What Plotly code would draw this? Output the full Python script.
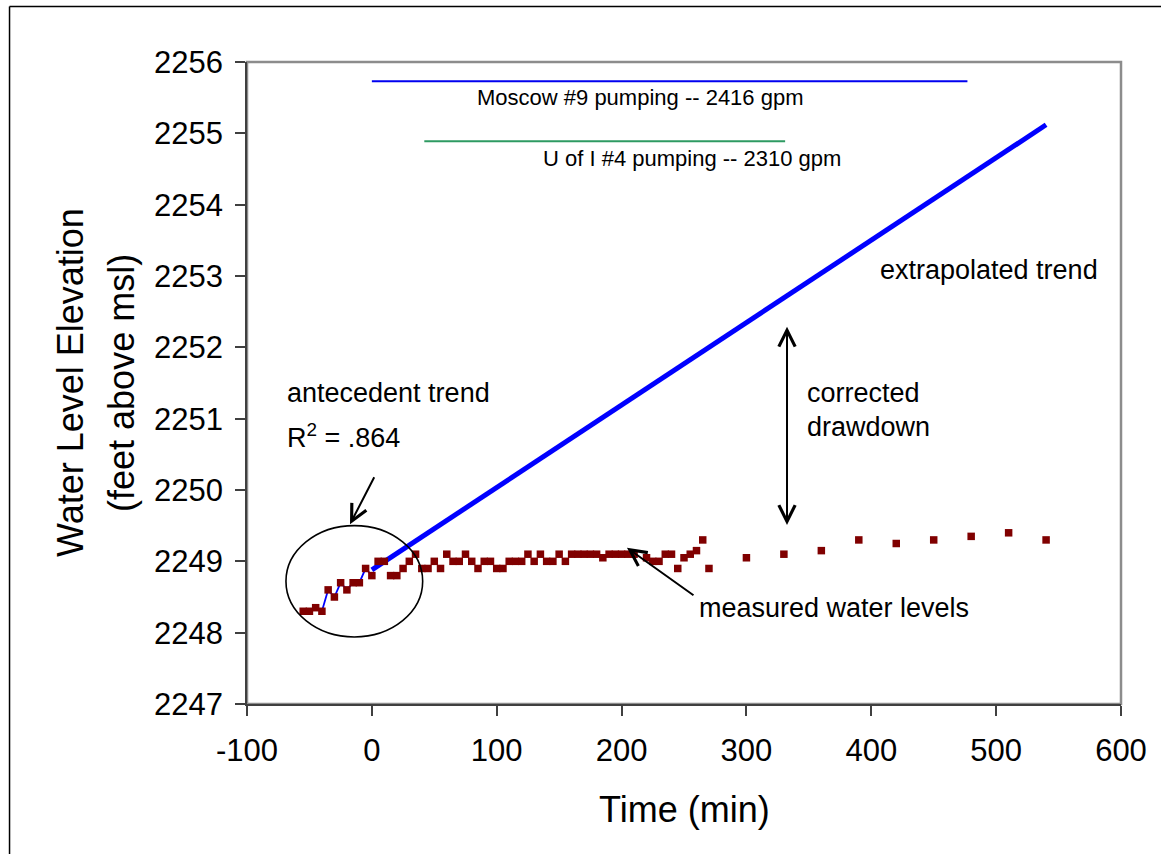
import plotly.graph_objects as go

# ---- data ----
meas_t = [-55, -50, -45, -40, -35, -30, -25, -20, -15, -10, -5, 0,
          5, 10, 15, 20, 25, 30, 35, 40, 45, 50, 55, 60, 65, 70, 75, 80,
          85, 90, 95, 100, 105, 110, 115, 120, 125, 130, 135, 140, 145,
          150, 155, 160, 165, 170, 175, 180, 185, 190, 195, 200, 205, 210,
          220, 225, 230, 235, 240, 245, 250, 255, 260, 265, 270,
          300, 330, 360, 390, 420, 450, 480, 510, 540]
meas_v = [2248.30, 2248.30, 2248.35, 2248.30, 2248.60, 2248.50, 2248.70,
          2248.60, 2248.70, 2248.70, 2248.90, 2248.80,
          2249.00, 2249.00, 2248.80, 2248.80, 2248.90, 2249.00, 2249.10,
          2248.90, 2248.90, 2249.00, 2248.90, 2249.10, 2249.00, 2249.00,
          2249.10, 2249.00, 2248.90, 2249.00, 2249.00, 2248.90, 2248.90,
          2249.00, 2249.00, 2249.00, 2249.10, 2249.00, 2249.10, 2249.00,
          2249.00, 2249.10, 2249.00, 2249.10, 2249.10, 2249.10, 2249.10,
          2249.10, 2249.05, 2249.10, 2249.10, 2249.10, 2249.10, 2249.10,
          2249.05, 2249.00, 2249.00, 2249.10, 2249.10, 2248.90, 2249.05,
          2249.10, 2249.15, 2249.30, 2248.90,
          2249.05, 2249.10, 2249.15, 2249.30, 2249.25, 2249.30, 2249.35,
          2249.40, 2249.30]

# antecedent period (before pumping) used for the trend
ante_t = meas_t[:12]
ante_v = meas_v[:12]

# extrapolated trend line end points
trend_t = [0, 540]
trend_v = [2248.88, 2255.12]

# pumping periods
moscow_t = [0, 477]
moscow_v = [2255.73, 2255.73]
uofi_t = [42, 331]
uofi_v = [2254.89, 2254.89]

x_ticks = [-100, 0, 100, 200, 300, 400, 500, 600]
x_ticktext = ["-100", "0", "100", "200", "300", "400", "500", "600"]
y_ticks = [2247, 2248, 2249, 2250, 2251, 2252, 2253, 2254, 2255, 2256]

FONT = "Liberation Sans, Arial, sans-serif"

fig = go.Figure()

fig.add_trace(go.Scatter(x=moscow_t, y=moscow_v, mode="lines",
                         line=dict(color="#0000F0", width=2), hoverinfo="skip"))
fig.add_trace(go.Scatter(x=uofi_t, y=uofi_v, mode="lines",
                         line=dict(color="#2E9A62", width=2), hoverinfo="skip"))
fig.add_trace(go.Scatter(x=ante_t, y=ante_v, mode="lines",
                         line=dict(color="#0000FF", width=1.8)))
fig.add_trace(go.Scatter(x=trend_t, y=trend_v, mode="lines",
                         line=dict(color="#0000FF", width=5)))
fig.add_trace(go.Scatter(x=meas_t, y=meas_v, mode="markers",
                         marker=dict(symbol="square", size=7.5, color="#800000",
                                     line=dict(width=0))))

ann = []
def txt(x, y, s, size, xanchor="center"):
    ann.append(dict(x=x, y=y, xref="x", yref="y", text=s, showarrow=False,
                    xanchor=xanchor, yanchor="middle",
                    font=dict(family=FONT, size=size, color="black")))

txt(215.5, 2255.50, "Moscow #9 pumping -- 2416 gpm", 22)
txt(256.3, 2254.65, "U of I #4 pumping -- 2310 gpm", 22)
txt(494.3, 2253.08, "extrapolated trend", 27)
txt(-69.6, 2251.36, "antecedent trend", 27, "left")
txt(-69.6, 2250.76, "R<sup>2</sup> = .864", 27, "left")
txt(346.9, 2251.36, "corrected", 27, "left")
txt(346.9, 2250.88, "drawdown", 27, "left")
txt(260.4, 2248.35, "measured water levels", 27, "left")

def arrow(hx, hy, tx, ty, side="end"):
    ann.append(dict(x=hx, y=hy, xref="x", yref="y", ax=tx, ay=ty,
                    axref="x", ayref="y", text="", showarrow=True,
                    arrowhead=5, startarrowhead=5, arrowside=side,
                    arrowsize=1.6, startarrowsize=1.6, arrowwidth=2,
                    arrowcolor="black"))

arrow(-17.5, 2249.52, 2.5, 2250.20)
arrow(204.3, 2249.19, 258.8, 2248.51)
arrow(332.5, 2249.51, 332.5, 2252.31, "end+start")

# axis titles
ann.append(dict(x=0.5, y=-0.165, xref="paper", yref="paper", text="Time (min)",
                showarrow=False, xanchor="center", yanchor="middle",
                font=dict(family=FONT, size=36, color="black")))
ann.append(dict(x=-0.2025, y=0.5, xref="paper", yref="paper",
                text="Water Level Elevation", textangle=-90, showarrow=False,
                xanchor="center", yanchor="middle",
                font=dict(family=FONT, size=36, color="black")))
ann.append(dict(x=-0.1442, y=0.5, xref="paper", yref="paper",
                text="(feet above msl)", textangle=-90, showarrow=False,
                xanchor="center", yanchor="middle",
                font=dict(family=FONT, size=36, color="black")))

shapes = [
    # plot-area frame (grey)
    dict(type="rect", xref="paper", yref="paper", x0=0, y0=0, x1=1, y1=1,
         line=dict(color="#8C8C8C", width=2.5), layer="below"),
    # circle around antecedent data
    dict(type="circle", xref="x", yref="y", x0=-68.8, x1=40.7, y0=2247.94, y1=2249.50,
         line=dict(color="black", width=1.6)),
    # outer chart border (left & top)
    dict(type="line", xref="paper", yref="paper", x0=-0.2717, x1=-0.2717,
         y0=-0.30, y1=1.0865, line=dict(color="black", width=1.5)),
    dict(type="line", xref="paper", yref="paper", x0=-0.2717, x1=1.10,
         y0=1.0865, y1=1.0865, line=dict(color="black", width=1.5)),
]

fig.update_layout(
    width=1161, height=854,
    margin=dict(l=247, r=40, t=62, b=150),
    paper_bgcolor="white", plot_bgcolor="white",
    showlegend=False,
    annotations=ann, shapes=shapes,
    font=dict(family=FONT, color="black"),
)
fig.update_xaxes(range=[-100, 600], tickvals=x_ticks, ticktext=x_ticktext,
                 ticks="outside", ticklen=10,
                 tickwidth=1.5, tickcolor="#404040", showline=True, linecolor="#404040",
                 linewidth=1.5, showgrid=False, zeroline=False,
                 tickfont=dict(family=FONT, size=31, color="black"),
                 ticklabelstandoff=8)
fig.update_yaxes(range=[2247, 2256], tickvals=y_ticks, ticks="outside", ticklen=10,
                 tickwidth=1.5, tickcolor="#404040", showline=True, linecolor="#404040",
                 linewidth=1.5, showgrid=False, zeroline=False,
                 tickfont=dict(family=FONT, size=31, color="black"),
                 ticklabelstandoff=6)

fig.write_html("out.html")
